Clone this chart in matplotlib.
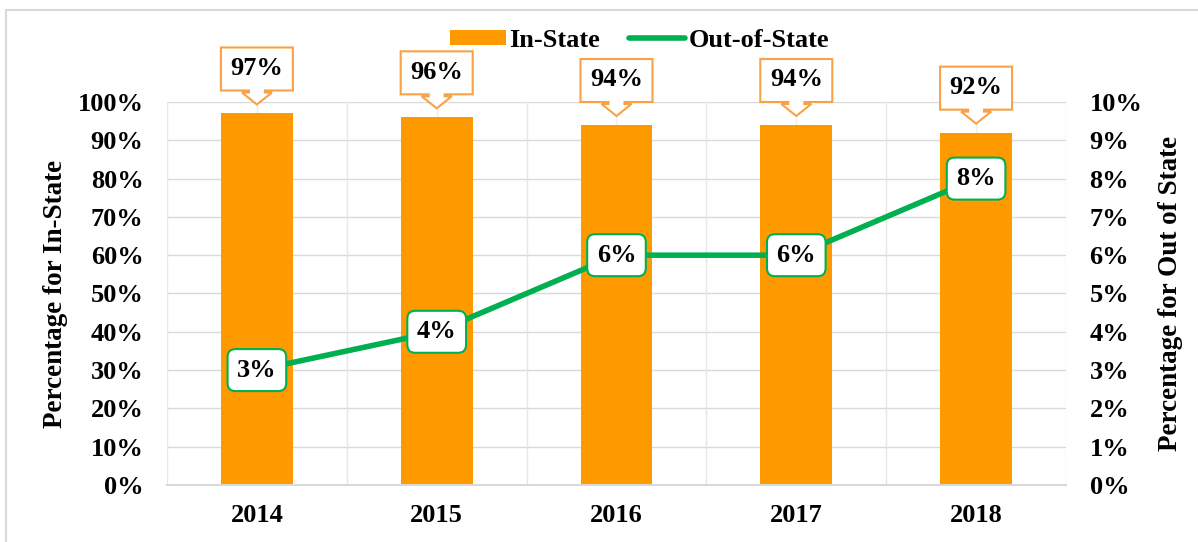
import matplotlib
matplotlib.use("Agg")
from matplotlib import pyplot as plt
from matplotlib import transforms as mtransforms
from matplotlib.patches import Polygon, Rectangle
import numpy as np

years = ["2014", "2015", "2016", "2017", "2018"]
in_state = [0.97, 0.96, 0.94, 0.94, 0.92]
out_state = [0.03, 0.04, 0.06, 0.06, 0.08]
in_labels = ["97%", "96%", "94%", "94%", "92%"]
out_labels = ["3%", "4%", "6%", "6%", "8%"]

orange = "#FF9900"
orange_edge = "#F9A245"
green = "#00B050"
grid_col = "#D9D9D9"

plt.rcParams["font.family"] = ["Liberation Serif", "DejaVu Serif"]
plt.rcParams["font.weight"] = "bold"

fig = plt.figure(figsize=(11.98, 5.42), dpi=100)
ax = fig.add_axes([0.1394, 0.1052, 0.7504, 0.7066])
ax2 = ax.twinx()

x = np.arange(len(years))

# gridlines
ax.set_ylim(0, 1.0)
ax.set_xlim(-0.5, len(years) - 0.5)
for v in np.arange(0.1, 1.01, 0.1):
    ax.axhline(v, color=grid_col, lw=1, zorder=0)
for b in np.arange(-0.5, len(years), 1.0):
    ax.axvline(b, color="#E6E6E6", lw=1, zorder=0)
for c in x:
    ax.axvline(c, color="#EEEEEE", lw=1, zorder=0)

ax.bar(x, in_state, width=0.4, color=orange, zorder=2)

for s in ["top", "left", "right"]:
    ax.spines[s].set_visible(False)
    ax2.spines[s].set_visible(False)
ax.spines["bottom"].set_color(grid_col)
ax.spines["bottom"].set_linewidth(1.5)
ax2.spines["bottom"].set_visible(False)

ax.set_yticks(np.arange(0, 1.01, 0.1))
ax.set_yticklabels([f"{int(round(v * 100))}%" for v in np.arange(0, 1.01, 0.1)])
ax.set_xticks(x)
ax.set_xticklabels(years)
ax.tick_params(axis="y", length=0, pad=17, labelsize=19)
ax.tick_params(axis="x", length=0, pad=14, labelsize=19)
ax.set_ylabel("Percentage for In-State", fontsize=19.5, fontweight="bold", labelpad=7)

# out of state line on right axis
ax2.set_ylim(0, 0.10)
ax2.set_yticks(np.arange(0, 0.101, 0.01))
ax2.set_yticklabels([f"{int(round(v * 100))}%" for v in np.arange(0, 0.101, 0.01)])
ax2.tick_params(axis="y", length=0, pad=17, labelsize=19)
ax2.set_ylabel("Percentage for Out of State", fontsize=19.5, fontweight="bold", labelpad=11)
ax2.plot(x, out_state, color=green, lw=4, solid_capstyle="round", zorder=3)

# callouts above bars (shape in pixels, anchored at bar top)
shape = [(-36, 66), (36, 66), (36, 23), (8, 23), (8, 21), (15, 21), (0, 9),
         (-15, 21), (-8, 21), (-8, 23), (-36, 23)]
for xi, v, lab in zip(x, in_state, in_labels):
    tr = mtransforms.Affine2D().scale(fig.dpi / 100.0) + \
        mtransforms.ScaledTranslation(xi, v, ax.transData)
    ax.add_patch(Polygon(shape, closed=True, facecolor="white", edgecolor=orange_edge,
                         lw=1.5, transform=tr, zorder=5, clip_on=False))
    ax.annotate(lab, (xi, v), xytext=(0, 45), textcoords="offset pixels",
                ha="center", va="center", fontsize=19, fontweight="bold",
                zorder=6, annotation_clip=False)

# labels on line points
for xi, v, lab in zip(x, out_state, out_labels):
    ax2.text(xi, v, lab, ha="center", va="center", fontsize=19, fontweight="bold",
             zorder=6, bbox=dict(boxstyle="round,pad=0.36,rounding_size=0.3",
                                 facecolor="white", edgecolor=green, lw=1.5))

# legend
h1 = Rectangle((0, 0), 1, 1, facecolor=orange)
h2 = plt.Line2D([0], [0], color=green, lw=4, solid_capstyle="round")
fig.legend([h1, h2], ["In-State", "Out-of-State"], loc="center",
           bbox_to_anchor=(0.534, 0.926), ncol=2, frameon=False,
           prop={"size": 19, "weight": "bold"}, handlelength=2.1,
           handleheight=0.5, handletextpad=0.15, columnspacing=1.1)

# chart border (top and left visible)
fig.patches.append(Rectangle((0.005, -0.05), 1.1, 0.9815 + 0.05, transform=fig.transFigure,
                             fill=False, edgecolor=grid_col, lw=1.5))

fig.savefig("out.png", dpi=100)
